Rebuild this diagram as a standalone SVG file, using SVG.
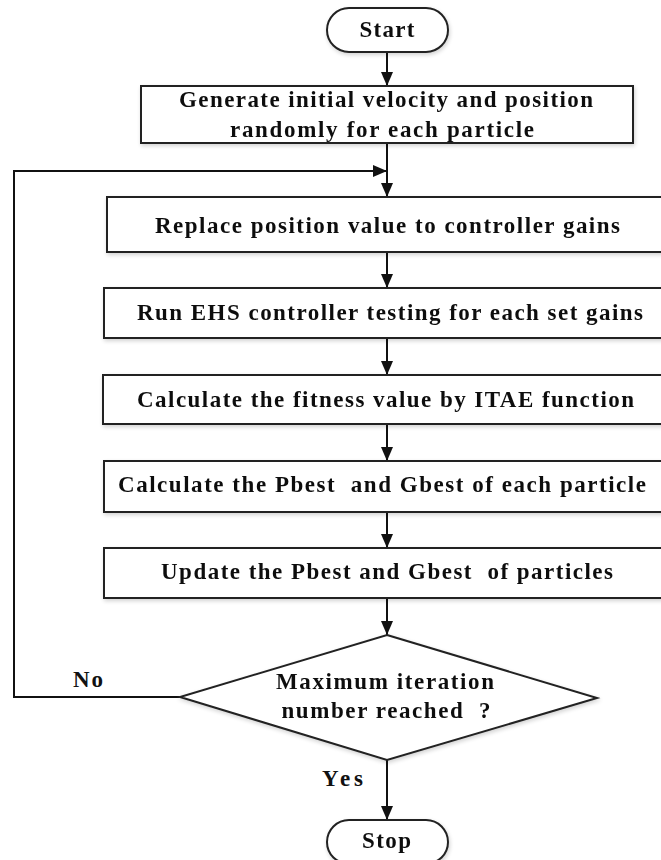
<svg xmlns="http://www.w3.org/2000/svg" width="661" height="860" viewBox="0 0 661 860">
<defs>
<marker id="arr" viewBox="0 0 14 12" refX="14" refY="6" markerWidth="14" markerHeight="12" markerUnits="userSpaceOnUse" orient="auto">
<path d="M0,0 L14,6 L0,12 Z" fill="#111"/>
</marker>
<filter id="sh" x="-5%" y="-20%" width="110%" height="140%">
<feGaussianBlur in="SourceAlpha" stdDeviation="2"/>
<feOffset dx="1" dy="2"/>
<feComponentTransfer><feFuncA type="linear" slope="0.18"/></feComponentTransfer>
<feMerge><feMergeNode/><feMergeNode in="SourceGraphic"/></feMerge>
</filter>
</defs>
<style>
.box{fill:#fff;stroke:#222;stroke-width:2;}
.t{font-family:"Liberation Serif","Times New Roman",serif;font-weight:bold;font-size:23px;fill:#111;text-anchor:middle;white-space:pre;}
.lbl{font-family:"Liberation Serif","Times New Roman",serif;font-weight:bold;font-size:23px;fill:#111;}
.c{fill:none;stroke:#111;stroke-width:2;}
</style>
<rect width="661" height="860" fill="#fff"/>
<g id="connectors">
<line class="c" x1="387" y1="52" x2="387" y2="86" marker-end="url(#arr)"/>
<line class="c" x1="387" y1="143" x2="387" y2="197" marker-end="url(#arr)"/>
<polyline class="c" points="180,697 14,697 14,171 387,171" marker-end="url(#arr)"/>
<line class="c" x1="387" y1="252" x2="387" y2="288" marker-end="url(#arr)"/>
<line class="c" x1="387" y1="338" x2="387" y2="375" marker-end="url(#arr)"/>
<line class="c" x1="387" y1="424" x2="387" y2="461" marker-end="url(#arr)"/>
<line class="c" x1="387" y1="512" x2="387" y2="548" marker-end="url(#arr)"/>
<line class="c" x1="387" y1="598" x2="387" y2="635" marker-end="url(#arr)"/>
<line class="c" x1="387" y1="760" x2="387" y2="820" marker-end="url(#arr)"/>
<text class="lbl" x="73" y="687" textLength="30" lengthAdjust="spacing">No</text>
<text class="lbl" x="322" y="786" textLength="41" lengthAdjust="spacing">Yes</text>
</g>
<g id="start" filter="url(#sh)">
<rect class="box" x="327" y="8" width="121" height="44" rx="22"/>
<text class="t" x="387" y="37" textLength="55" lengthAdjust="spacing">Start</text>
</g>
<g id="init" filter="url(#sh)">
<rect class="box" x="141" y="86" width="492" height="57"/>
<text class="t" x="386" y="107" textLength="414" lengthAdjust="spacing">Generate initial velocity and position</text>
<text class="t" x="382" y="137" textLength="304" lengthAdjust="spacing">randomly for each particle</text>
</g>
<g id="replace" filter="url(#sh)">
<rect class="box" x="107" y="197" width="562" height="55"/>
<text class="t" x="387.5" y="233" textLength="465" lengthAdjust="spacing">Replace position value to controller gains</text>
</g>
<g id="run" filter="url(#sh)">
<rect class="box" x="104" y="288" width="568" height="50"/>
<text class="t" x="390" y="320" textLength="506" lengthAdjust="spacing">Run EHS controller testing for each set gains</text>
</g>
<g id="fitness" filter="url(#sh)">
<rect class="box" x="103" y="375" width="569" height="49"/>
<text class="t" x="385.5" y="407" textLength="497" lengthAdjust="spacing">Calculate the fitness value by ITAE function</text>
</g>
<g id="pbest" filter="url(#sh)">
<rect class="box" x="104" y="461" width="568" height="51"/>
<text class="t" x="382" y="492" textLength="528" lengthAdjust="spacing">Calculate the Pbest  and Gbest of each particle</text>
</g>
<g id="update" filter="url(#sh)">
<rect class="box" x="104" y="548" width="568" height="50"/>
<text class="t" x="387" y="579" textLength="452" lengthAdjust="spacing">Update the Pbest and Gbest  of particles</text>
</g>
<g id="decision" filter="url(#sh)">
<polygon class="box" points="387,635 597,698 387,760 180,697"/>
<text class="t" x="385" y="689" textLength="218" lengthAdjust="spacing">Maximum iteration</text>
<text class="t" x="386" y="718" textLength="209" lengthAdjust="spacing">number reached  ?</text>
</g>
<g id="stop" filter="url(#sh)">
<rect class="box" x="327" y="820" width="121" height="44" rx="22"/>
<text class="t" x="386.5" y="848" textLength="49" lengthAdjust="spacing">Stop</text>
</g>
</svg>
